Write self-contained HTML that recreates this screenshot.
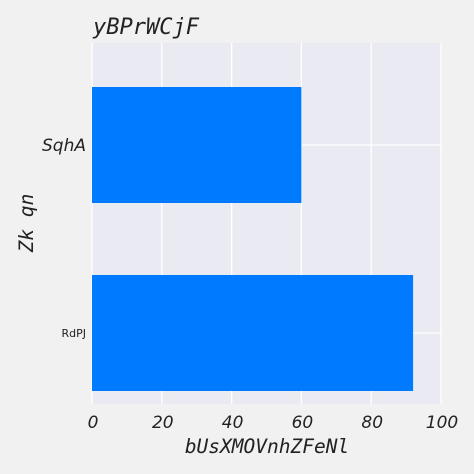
<!DOCTYPE html>
<html><head><meta charset="utf-8"><style>
body{margin:0;background:#f1f1f1;}
svg{display:block}
.t{font-family:"DejaVu Sans Mono","Liberation Mono",monospace;font-style:italic;fill:#222}
.k{font-family:"DejaVu Sans","Liberation Sans",sans-serif;font-style:italic;fill:#222}
</style></head><body>
<svg id="c" width="474" height="474">
<rect x="0" y="0" width="474" height="474" fill="#f1f1f1"/>
<rect x="92" y="43" width="349" height="361" fill="#eaeaf2"/>
<g id="grid"></g><g id="bars"></g><g id="ticks"></g>
<text x="93" y="34" class="t" font-size="22">yBPrWCjF</text>
<text x="267" y="453" class="t" font-size="19.5" text-anchor="middle">bUsXMOVnhZFeNl</text>
<text transform="translate(33,223) rotate(-90)" class="t" font-size="19.5" text-anchor="middle">Zk qn</text>
</svg>
<script>
const categories=["RdPJ","SqhA"];
const values=[92,60];
const xTicks=[0,20,40,60,80,100];
const NS="http://www.w3.org/2000/svg";
const x=v=>92+v*3.49;
const y=i=>333-i*188;
function mk(t,a,p){const e=document.createElementNS(NS,t);for(const k in a)e.setAttribute(k,a[k]);p.appendChild(e);return e;}
const g=document.getElementById('grid'),b=document.getElementById('bars'),tk=document.getElementById('ticks');
xTicks.forEach(v=>{
const l=mk('line',{x1:x(v),x2:x(v),y1:43,y2:404,stroke:'#fff','stroke-width':1.3},g);


const t=mk('text',{x:x(v)+1,y:428,'font-size':17,'text-anchor':'middle',class:'k'},tk);
t.textContent=v;


});
categories.forEach((c,i)=>{
const l=mk('line',{x1:92,x2:441,y1:y(i),y2:y(i),stroke:'#fff','stroke-width':1.3},g);


const r=mk('rect',{x:x(0),y:y(i)-58,width:x(values[i])-x(0),height:116,fill:'#007bff'},b);


const small=i===0;
const t=mk('text',{x:86,y:y(i)+(small?4:6),'font-size':small?11:17,'text-anchor':'end',class:small?'':'k','font-family':'DejaVu Sans, Liberation Sans, sans-serif',fill:'#222'},tk);
t.textContent=c;


});
</script>
</body></html>
